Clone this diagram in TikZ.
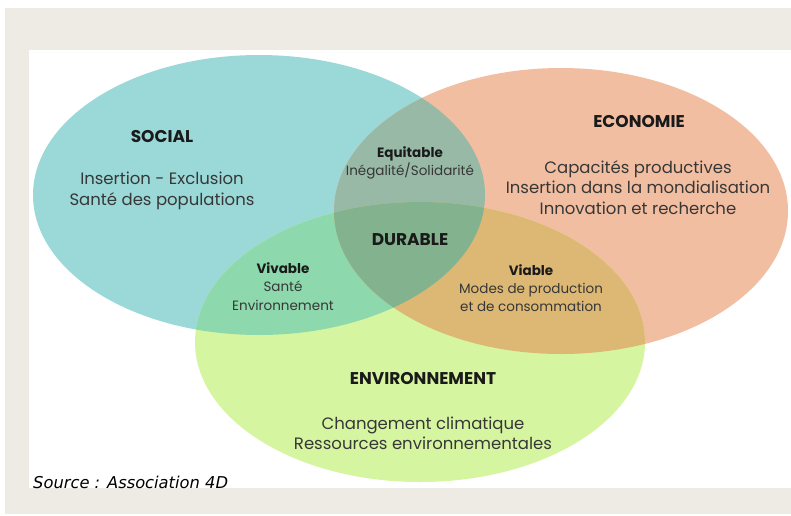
\documentclass[tikz,border=0pt]{standalone}
\usepackage{fontspec}
\setmainfont{Poppins}
\newfontfamily\sourcefont{DejaVu Sans}
\usepackage{xcolor}
\usepackage{tikz}
\usetikzlibrary{positioning}

\definecolor{framecol}{RGB}{238,235,229}
\definecolor{socialcol}{RGB}{154,217,216}
\definecolor{ecocol}{RGB}{242,190,161}
\definecolor{envcol}{RGB}{214,245,160}
\definecolor{equitcol}{RGB}{151,185,165}
\definecolor{vivcol}{RGB}{141,216,172}
\definecolor{viabcol}{RGB}{221,183,116}
\definecolor{durcol}{RGB}{131,178,142}
\definecolor{headcol}{RGB}{26,26,26}
\definecolor{itemcol}{RGB}{55,55,55}

% the three spheres
\newcommand{\socialshape}{(259,195) ellipse [x radius=226pt, y radius=140pt]}
\newcommand{\ecoshape}{(561,211) ellipse [x radius=227pt, y radius=143pt]}
\newcommand{\envshape}{(420,342) ellipse [x radius=225pt, y radius=140pt]}

\begin{document}
\begin{tikzpicture}[
      x=1pt, y=-1pt,
      head/.style={font=\fontsize{17}{20}\selectfont\bfseries, text=headcol, inner sep=0pt},
      item/.style={font=\fontsize{16.5}{20.3}\selectfont, text=itemcol, align=center, inner sep=0pt},
      inter/.style={font=\fontsize{13.5}{18.2}\selectfont, text=itemcol, align=center, inner sep=0pt}
    ]

    % Frame
    \useasboundingbox (0,0) rectangle (791,515);
    \fill[white] (0,0) rectangle (791,515);
    \fill[framecol] (5,8) rectangle (791,514);
    \fill[white] (29,50) rectangle (791,488);

    % Ellipses
    \fill[socialcol] \socialshape;
    \fill[ecocol] \ecoshape;
    \fill[envcol] \envshape;

    % Overlaps
    \begin{scope}
      \clip \socialshape;
      \fill[equitcol] \ecoshape;
      \fill[vivcol] \envshape;
    \end{scope}
    \begin{scope}
      \clip \ecoshape;
      \fill[viabcol] \envshape;
    \end{scope}
    \begin{scope}
      \clip \socialshape;
      \clip \ecoshape;
      \fill[durcol] \envshape;
    \end{scope}

    % Spheres
    \node[head] (social) at (162,137) {SOCIAL};
    \node[item] (socialitems) at (162,191) {Insertion - Exclusion\\Santé des populations};

    \node[head] (eco) at (639,122) {ECONOMIE};
    \node[item] (ecoitems) at (638,187.5) {Capacités productives\\Insertion dans la mondialisation\\Innovation et recherche};

    \node[head] (env) at (423,378) {ENVIRONNEMENT};
    \node[item] (envitems) at (423,433) {Changement climatique\\Ressources environnementales};

    % Overlaps
    \node[inter] (equit) at (410,163) {\textbf{\color{headcol}Equitable}\\Inégalité/Solidarité};
    \node[inter] (viv) at (283,286.5) {\textbf{\color{headcol}Vivable}\\Santé\\Environnement};
    \node[inter] (viab) at (531,288) {\textbf{\color{headcol}Viable}\\Modes de production\\et de consommation};
    \node[head] (dur) at (410,240) {DURABLE};

    % Source
    \node[anchor=base west, inner sep=0pt, font=\sourcefont\itshape\fontsize{16.3}{19}\selectfont] (source) at (33,488) {Source : Association 4D};

\end{tikzpicture}
\end{document}
